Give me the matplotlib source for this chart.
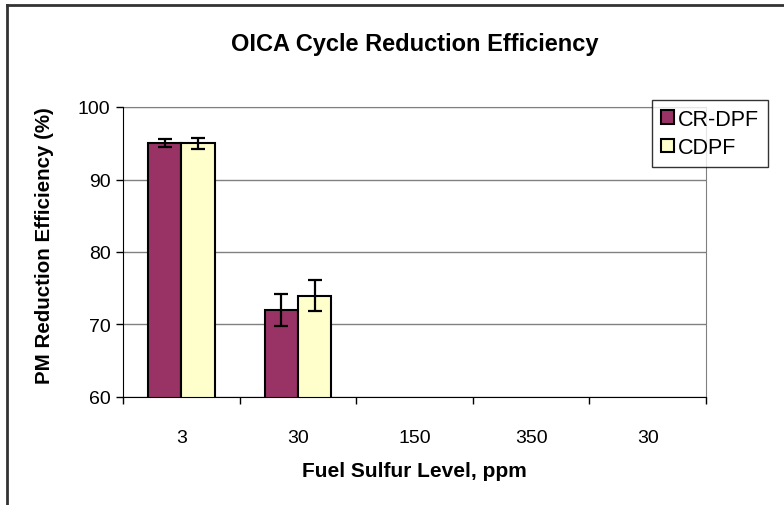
import numpy as np
import matplotlib.pyplot as plt
from matplotlib.lines import Line2D

plt.rcParams['font.family'] = ['Liberation Sans', 'DejaVu Sans']

# Data
categories = ["3", "30", "150", "350", "30"]
cr_dpf = [95.0, 72.0, np.nan, np.nan, np.nan]
cr_dpf_err = [0.55, 2.2, 0, 0, 0]
cdpf = [95.0, 74.0, np.nan, np.nan, np.nan]
cdpf_err = [0.75, 2.1, 0, 0, 0]

fig = plt.figure(figsize=(7.84, 5.06), dpi=100)
ax = fig.add_axes([123 / 784, 1 - 398 / 506, 583 / 784, 290 / 506])

x = np.arange(len(categories))
w = 1 / 3.5
err_kw = dict(ecolor="black", elinewidth=1.6, capsize=5, capthick=1.6)
ax.bar(x - w / 2, cr_dpf, w, color="#993366", edgecolor="black", linewidth=1.5,
       yerr=cr_dpf_err, error_kw=err_kw, label="CR-DPF", zorder=3)
ax.bar(x + w / 2, cdpf, w, color="#FFFFCC", edgecolor="black", linewidth=1.5,
       yerr=cdpf_err, error_kw=err_kw, label="CDPF", zorder=3)

ax.set_xlim(-0.5, len(categories) - 0.5)
ax.set_ylim(60, 100)
ax.set_yticks([60, 70, 80, 90, 100])
ax.set_xticks(x)
ax.set_xticklabels(categories)
ax.set_xticks(np.arange(len(categories) + 1) - 0.5, minor=True)
ax.tick_params(axis="x", which="major", length=0, labelsize=14, pad=23)
ax.tick_params(axis="x", which="minor", length=5, width=1, direction="out")
ax.tick_params(axis="y", length=5, width=1, labelsize=14, pad=4)

ax.yaxis.grid(True, color="#808080", linewidth=1, zorder=0)
ax.set_axisbelow(True)
for side in ["top", "right"]:
    ax.spines[side].set_color("#808080")
for side in ["left", "bottom"]:
    ax.spines[side].set_color("black")
    ax.spines[side].set_zorder(4)

fig.text(414.5 / 784, 1 - 45 / 506, "OICA Cycle Reduction Efficiency",
         fontsize=17, fontweight="bold", ha="center", va="center")
ax.set_xlabel("Fuel Sulfur Level, ppm", fontsize=15, fontweight="bold", va="center")
ax.xaxis.set_label_coords(0.5, -(472 - 398) / 290)
ax.set_ylabel("PM Reduction Efficiency (%)", fontsize=14.8, fontweight="bold", va="center")
ax.yaxis.set_label_coords(-(123 - 45) / 583, 0.5 + 7 / 290)

leg = ax.legend(loc="upper left", bbox_to_anchor=(652 / 784, 1 - 101 / 506),
                bbox_transform=fig.transFigure, fontsize=15.5, frameon=True,
                fancybox=False, edgecolor="black", borderaxespad=0,
                handlelength=0.6, handleheight=0.6, handletextpad=0.2,
                borderpad=0.4, labelspacing=0.35)
leg.get_frame().set_linewidth(1)

# chart border (left and top edges)
fig.add_artist(Line2D([6.5 / 784, 6.5 / 784], [0, 1 - 6 / 506], color="#333333",
                      linewidth=2, transform=fig.transFigure))
fig.add_artist(Line2D([6.5 / 784, 1], [1 - 6 / 506, 1 - 6 / 506], color="#333333",
                      linewidth=2, transform=fig.transFigure))

fig.savefig("out.png", dpi=100)
